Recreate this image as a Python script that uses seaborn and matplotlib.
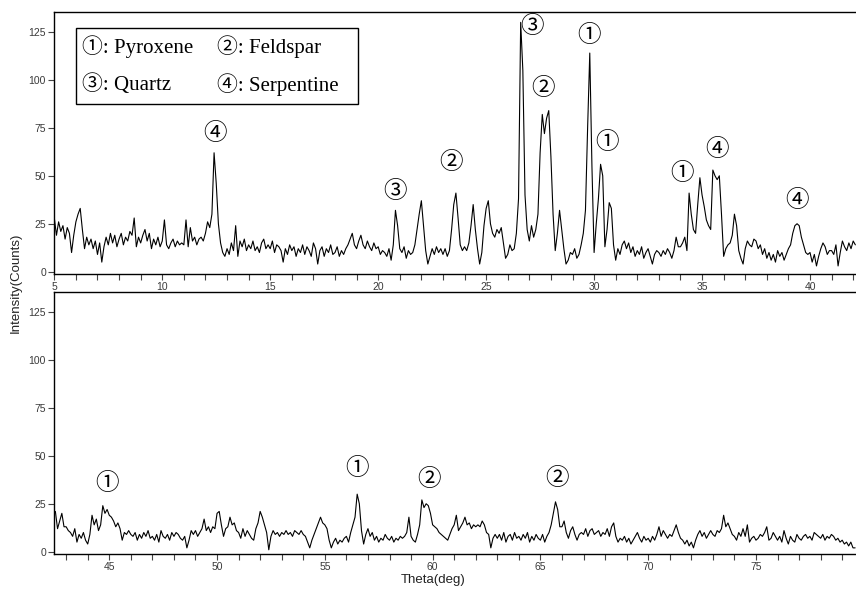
import numpy as np
import pandas as pd
import matplotlib
matplotlib.use("Agg")
import matplotlib.pyplot as plt
from matplotlib.patches import Rectangle
from matplotlib.ticker import MultipleLocator
import seaborn as sns

# ---------------- data ----------------
theta_start_top = 5.0
theta_start_bottom = 42.4
theta_step = 0.1

intensity_top = [
    28, 19, 26, 21, 24, 17, 23, 20, 10, 19,   # 5
    26, 30, 33, 22, 12, 18, 14, 17, 12, 16,   # 6
    9, 15, 5, 13, 18, 14, 20, 15, 19, 13,     # 7
    17, 20, 14, 18, 16, 21, 19, 28, 13, 18,   # 8
    15, 19, 22, 16, 20, 12, 17, 14, 18, 13,   # 9
    16, 27, 14, 12, 15, 17, 13, 16, 14, 15,   # 10
    14, 27, 13, 23, 16, 18, 14, 17, 18, 16,   # 11
    20, 26, 23, 30, 62, 46, 25, 15, 10, 8,    # 12
    12, 9, 15, 11, 24, 8, 16, 13, 17, 11,     # 13
    14, 12, 16, 11, 13, 10, 15, 17, 12, 14,   # 14
    12, 16, 10, 14, 13, 11, 5, 12, 9, 14,     # 15
    11, 13, 8, 12, 10, 14, 9, 13, 11, 8,      # 16
    15, 12, 4, 11, 13, 8, 12, 10, 14, 9,      # 17
    10, 13, 8, 11, 9, 12, 14, 17, 20, 14,     # 18
    12, 16, 19, 14, 12, 16, 13, 11, 15, 12,   # 19
    13, 9, 11, 10, 8, 12, 6, 14, 32, 24,      # 20
    12, 10, 13, 7, 11, 9, 10, 14, 22, 30,     # 21
    37, 24, 11, 4, 8, 12, 9, 13, 10, 12,      # 22
    9, 12, 8, 11, 22, 35, 41, 28, 14, 11,     # 23
    13, 11, 15, 24, 35, 22, 12, 4, 10, 24,    # 24
    33, 37, 25, 20, 18, 22, 20, 23, 15, 7,    # 25
    9, 14, 11, 12, 20, 38, 130, 105, 40, 22,  # 26
    16, 24, 18, 22, 30, 62, 82, 72, 80, 84,   # 27
    60, 30, 11, 20, 32, 22, 12, 4, 6, 10,     # 28
    9, 12, 7, 9, 14, 20, 32, 75, 114, 55,     # 29
    10, 25, 38, 56, 50, 13, 22, 36, 33, 14,   # 30
    6, 12, 9, 14, 16, 12, 15, 10, 13, 8,      # 31
    11, 9, 13, 7, 10, 12, 8, 4, 9, 11,        # 32
    10, 8, 11, 9, 12, 10, 7, 11, 18, 13,      # 33
    13, 15, 18, 11, 41, 30, 22, 20, 35, 49,   # 34
    40, 34, 27, 24, 22, 53, 50, 48, 50, 30,   # 35
    8, 12, 14, 15, 19, 30, 24, 11, 7, 4,      # 36
    12, 16, 14, 13, 17, 16, 12, 14, 9, 12,    # 37
    7, 10, 6, 9, 5, 11, 8, 10, 6, 9,          # 38
    12, 14, 20, 24, 25, 24, 18, 14, 10, 9,    # 39
    10, 5, 9, 3, 8, 12, 15, 13, 9, 11,        # 40
    11, 9, 14, 3, 10, 16, 13, 11, 15, 12,     # 41
    16, 14,                                   # 42
]

intensity_bottom = [
    20, 21, 12, 16, 20, 13,                   # 42.4-42.9
    13, 11, 10, 8, 12, 5, 9, 7, 10, 6,        # 43
    4, 9, 19, 14, 17, 11, 14, 24, 20, 22,     # 44
    19, 18, 16, 13, 15, 12, 6, 10, 9, 11,     # 45
    9, 8, 10, 6, 9, 7, 10, 8, 11, 7,          # 46
    8, 6, 9, 5, 11, 8, 7, 9, 6, 10,           # 47
    8, 10, 9, 7, 6, 8, 2, 6, 11, 9,           # 48
    11, 8, 10, 12, 17, 11, 13, 10, 13, 12,    # 49
    20, 21, 14, 8, 12, 13, 18, 14, 15, 11,    # 50
    10, 7, 12, 8, 11, 9, 7, 6, 12, 15,        # 51
    21, 18, 14, 10, 1, 8, 11, 9, 10, 8,       # 52
    10, 9, 11, 9, 10, 8, 11, 10, 9, 11,       # 53
    9, 8, 5, 2, 6, 9, 12, 15, 18, 15,         # 54
    14, 12, 6, 2, 5, 7, 4, 6, 5, 7,           # 55
    8, 5, 10, 14, 18, 30, 25, 11, 4, 9,       # 56
    12, 8, 10, 6, 8, 5, 7, 6, 9, 7,           # 57
    6, 8, 5, 7, 6, 8, 7, 8, 10, 18,           # 58
    8, 6, 5, 9, 14, 27, 23, 25, 24, 20,       # 59
    14, 13, 12, 10, 9, 8, 7, 6, 9, 12,        # 60
    14, 19, 11, 13, 15, 18, 14, 15, 12, 14,   # 61
    13, 14, 13, 16, 14, 10, 9, 2, 7, 9,       # 62
    7, 9, 6, 10, 5, 8, 9, 6, 10, 7,           # 63
    8, 6, 9, 7, 10, 5, 8, 6, 9, 7,            # 64
    6, 9, 5, 8, 10, 14, 20, 26, 22, 13,       # 65
    13, 16, 10, 7, 11, 13, 9, 6, 9, 10,       # 66
    9, 12, 8, 11, 12, 9, 10, 11, 8, 10,       # 67
    9, 12, 8, 13, 15, 8, 5, 7, 6, 8,          # 68
    5, 7, 4, 6, 8, 10, 7, 5, 8, 6,            # 69
    7, 5, 8, 6, 9, 13, 8, 11, 9, 7,           # 70
    9, 8, 11, 14, 10, 7, 6, 4, 6, 3,          # 71
    5, 2, 6, 9, 11, 8, 10, 7, 9, 11,          # 72
    9, 8, 11, 10, 12, 19, 13, 15, 12, 9,      # 73
    8, 6, 10, 8, 12, 8, 14, 5, 7, 8,          # 74
    6, 7, 9, 8, 10, 13, 6, 7, 10, 8,          # 75
    6, 8, 5, 11, 7, 4, 8, 6, 5, 9,            # 76
    7, 6, 8, 9, 7, 8, 6, 10, 9, 8,            # 77
    7, 9, 6, 8, 7, 9, 8, 6, 7, 5,             # 78
    6, 4, 5, 3, 5, 2, 2,                      # 79.0-79.6
]

legend_entries = ["①: Pyroxene", "②: Feldspar", "③: Quartz", "④: Serpentine"]

top_peak_labels = ["④", "③", "②", "③", "②", "①", "①", "①", "④", "④"]
top_peak_theta = [12.44, 20.78, 23.36, 27.11, 27.65, 29.78, 30.59, 34.06, 35.68, 39.39]
top_peak_level = [71.9, 41.8, 57.0, 127.8, 95.7, 123.4, 67.3, 51.4, 63.5, 37.0]

bottom_peak_labels = ["①", "①", "②", "②"]
bottom_peak_theta = [44.88, 56.50, 59.83, 65.78]
bottom_peak_level = [35.3, 43.6, 37.9, 38.4]

y_ticks = [0, 25, 50, 75, 100, 125]

# ---------------- build tables ----------------
df_top = pd.DataFrame({
    "theta": np.round(theta_start_top + theta_step * np.arange(len(intensity_top)), 2),
    "intensity": intensity_top,
})
df_bottom = pd.DataFrame({
    "theta": np.round(theta_start_bottom + theta_step * np.arange(len(intensity_bottom)), 2),
    "intensity": intensity_bottom,
})

# ---------------- style ----------------
sns.set_style("ticks")
plt.rcParams["font.family"] = ["Liberation Sans", "DejaVu Sans"]

W, H = 856, 590
fig = plt.figure(figsize=(W / 100, H / 100), dpi=100)

def px_box(left, top, right, bottom):
    return [left / W, 1 - bottom / H, (right - left) / W, (bottom - top) / H]

ax1 = fig.add_axes(px_box(54.3, 12, 856, 274))
ax2 = fig.add_axes(px_box(54.3, 292, 856, 554))

tick_color = "#3a3a3a"
circ_family = ["Noto Sans CJK SC", "DejaVu Sans"]

for ax, df, xlim, major in [
    (ax1, df_top, (5.0, 42.13), [5, 10, 15, 20, 25, 30, 35, 40]),
    (ax2, df_bottom, (42.45, 79.64), [45, 50, 55, 60, 65, 70, 75]),
]:
    sns.lineplot(data=df, x="theta", y="intensity", ax=ax, color="black",
                 linewidth=0.8, estimator=None, sort=False)
    ax.set_xlim(*xlim)
    ax.set_ylim(-1.2, 135.4)
    ax.set_xticks(major)
    ax.xaxis.set_minor_locator(MultipleLocator(1))
    ax.set_yticks(y_ticks)
    ax.set_xlabel("")
    ax.set_ylabel("")
    ax.tick_params(axis="both", which="both", direction="out", length=4,
                   width=0.8, colors="#444444", labelsize=7.5, labelcolor=tick_color, pad=2)
    ax.tick_params(axis="x", which="major", pad=1.5)
    for s in ["left", "top", "bottom"]:
        ax.spines[s].set_color("black")
        ax.spines[s].set_linewidth(1.0)
    ax.spines["right"].set_visible(False)

for lab, x, y in zip(top_peak_labels, top_peak_theta, top_peak_level):
    ax1.text(x, y, lab, ha="center", va="center", fontsize=17, family=circ_family,
             color="black")
for lab, x, y in zip(bottom_peak_labels, bottom_peak_theta, bottom_peak_level):
    ax2.text(x, y, lab, ha="center", va="center", fontsize=17, family=circ_family,
             color="black")

# legend box
leg_rect = Rectangle((76 / W, 1 - 104 / H), (358 - 76) / W, (104 - 28) / H,
                     transform=fig.transFigure, fill=False, edgecolor="black",
                     linewidth=1.0, zorder=5)
fig.patches.append(leg_rect)
leg_family = ["Liberation Serif", "Noto Sans CJK SC", "DejaVu Sans"]
leg_pos = [(82, 47), (217, 47), (82, 85), (217, 85)]
for txt, (px, py) in zip(legend_entries, leg_pos):
    fig.text(px / W, 1 - py / H, txt, ha="left", va="center", fontsize=15,
             family=leg_family, color="black")

fig.text(16 / W, 1 - 283 / H, "Intensity(Counts)", rotation=90, ha="center",
         va="center", fontsize=9.5, color="#222222")
fig.text(433 / W, 1 - 580 / H, "Theta(deg)", ha="center", va="center",
         fontsize=9.5, color="#222222")

fig.savefig("out.png", dpi=100)
